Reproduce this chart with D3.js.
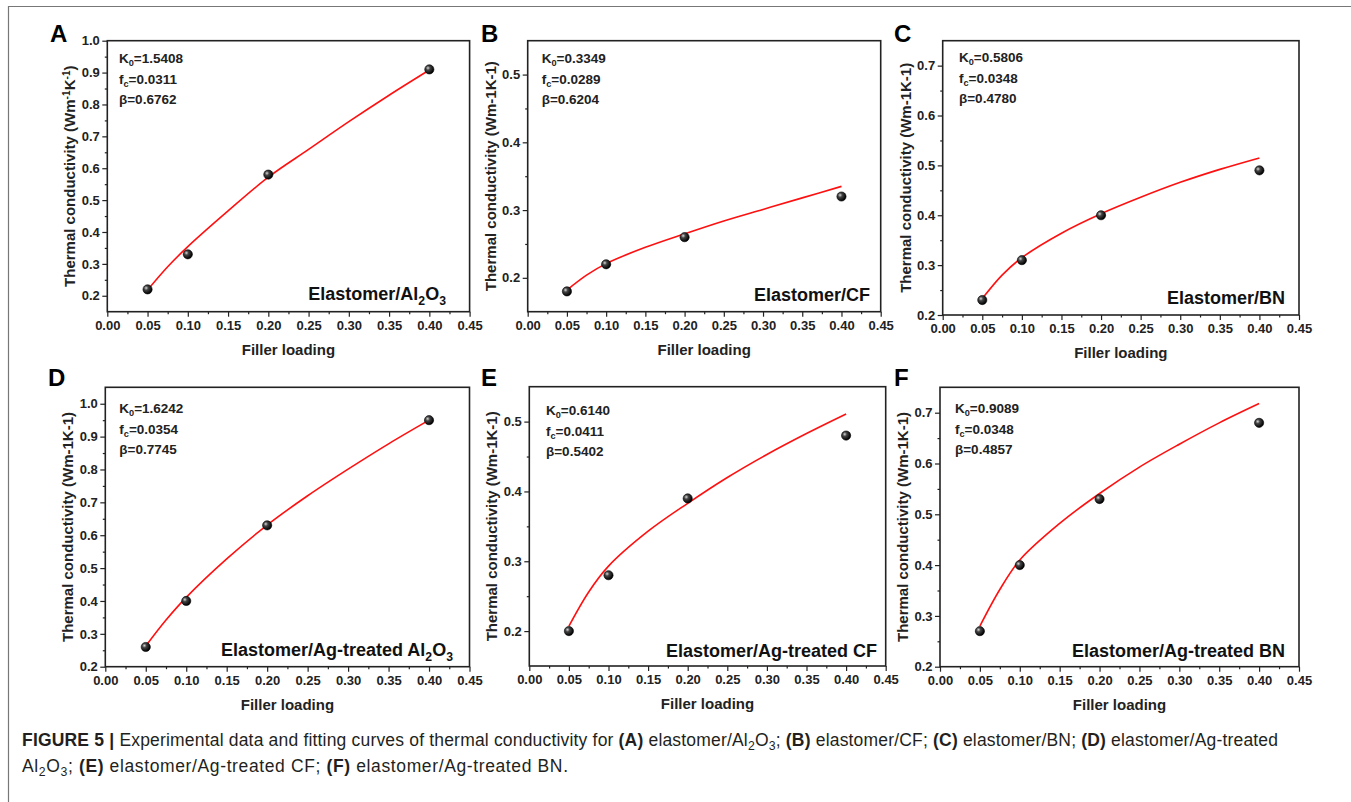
<!DOCTYPE html>
<html>
<head>
<meta charset="utf-8">
<script src="https://cdn.jsdelivr.net/npm/d3@7"></script>
<style>
  html, body { margin: 0; padding: 0; background: #fff; }
  svg { display: block; }
  text { font-family: "Liberation Sans", Arial, Helvetica, sans-serif; }
</style>
</head>
<body>
<svg id="chart" width="1351" height="802"></svg>
<script>
// ---------------- DATA ----------------
const fillerLoading = [0.05, 0.10, 0.20, 0.40];
const kAl2O3   = [0.22, 0.33, 0.58, 0.91];
const kCF      = [0.18, 0.22, 0.26, 0.32];
const kBN      = [0.23, 0.31, 0.40, 0.49];
const kAgAl2O3 = [0.26, 0.40, 0.63, 0.95];
const kAgCF    = [0.20, 0.28, 0.39, 0.48];
const kAgBN    = [0.27, 0.40, 0.53, 0.68];

// fitted curves
const fitLoading  = [0.05, 0.075, 0.10, 0.15, 0.20, 0.25, 0.30, 0.35, 0.40];
const fitAl2O3    = [0.218, 0.291, 0.354, 0.466, 0.572, 0.659, 0.746, 0.829, 0.908];
const fitCF       = [0.182, 0.204, 0.221, 0.245, 0.265, 0.284, 0.301, 0.318, 0.335];
const fitBN       = [0.233, 0.280, 0.315, 0.364, 0.403, 0.436, 0.466, 0.492, 0.515];
const fitAgAl2O3  = [0.263, 0.342, 0.411, 0.528, 0.631, 0.720, 0.801, 0.878, 0.950];
const fitAgCF     = [0.207, 0.256, 0.293, 0.343, 0.383, 0.420, 0.453, 0.483, 0.511];
const fitAgBN     = [0.280, 0.352, 0.410, 0.482, 0.541, 0.593, 0.638, 0.680, 0.718];

const xTicks = [0, 0.05, 0.10, 0.15, 0.20, 0.25, 0.30, 0.35, 0.40, 0.45];
const yTicksAl = [0.2, 0.3, 0.4, 0.5, 0.6, 0.7, 0.8, 0.9, 1.0];
const yTicksCF = [0.2, 0.3, 0.4, 0.5];
const yTicksBN = [0.2, 0.3, 0.4, 0.5, 0.6, 0.7];

const panelLetters = ["A", "B", "C", "D", "E", "F"];
const paramK0 = ["1.5408", "0.3349", "0.5806", "1.6242", "0.6140", "0.9089"];
const paramFc = ["0.0311", "0.0289", "0.0348", "0.0354", "0.0411", "0.0348"];
const paramBeta = ["0.6762", "0.6204", "0.4780", "0.7745", "0.5402", "0.4857"];

// ---------------- LAYOUT ----------------
const layout = [
  {x0:107.3, x1:469.6, y0:40.7,  y1:311.7, yd:[0.15,1.0],  letter:[50,42],   ann:[119,63],   smp:[446,300]},
  {x0:527.7, x1:880.7, y0:40.7,  y1:311.7, yd:[0.15,0.55], letter:[481,42],  ann:[541.7,63], smp:[870,301]},
  {x0:942.7, x1:1299,  y0:40.7,  y1:315,   yd:[0.2,0.75],  letter:[894,42],  ann:[959,62],   smp:[1285,304]},
  {x0:105.3, x1:469.5, y0:387.3, y1:666.7, yd:[0.2,1.05],  letter:[48,386],  ann:[119.3,413],smp:[453,656]},
  {x0:529.3, x1:885.7, y0:386.7, y1:666,   yd:[0.15,0.55], letter:[481,386], ann:[546,415],  smp:[877,657]},
  {x0:940,   x1:1299,  y0:387.3, y1:666.7, yd:[0.2,0.75],  letter:[894,386], ann:[955,413],  smp:[1285,657]}
];

const panels = [
  {k:kAl2O3,   fit:fitAl2O3,   yt:yTicksAl, sample:[["Elastomer/Al"],["2","sub"],["O"],["3","sub"]], supLabel:true},
  {k:kCF,      fit:fitCF,      yt:yTicksCF, sample:[["Elastomer/CF"]]},
  {k:kBN,      fit:fitBN,      yt:yTicksBN, sample:[["Elastomer/BN"]]},
  {k:kAgAl2O3, fit:fitAgAl2O3, yt:yTicksAl, sample:[["Elastomer/Ag-treated Al"],["2","sub"],["O"],["3","sub"]]},
  {k:kAgCF,    fit:fitAgCF,    yt:yTicksCF, sample:[["Elastomer/Ag-treated CF"]]},
  {k:kAgBN,    fit:fitAgBN,    yt:yTicksBN, sample:[["Elastomer/Ag-treated BN"]]}
];

const svg = d3.select("#chart");

// gradient for spherical markers
const defs = svg.append("defs");
const grad = defs.append("radialGradient").attr("id", "ball")
  .attr("cx", "35%").attr("cy", "35%").attr("r", "65%");
grad.append("stop").attr("offset", "0%").attr("stop-color", "#d8d8d8");
grad.append("stop").attr("offset", "35%").attr("stop-color", "#444");
grad.append("stop").attr("offset", "100%").attr("stop-color", "#000");

// outer frame lines
svg.append("line").attr("x1", 8).attr("x2", 1351).attr("y1", 6.5).attr("y2", 6.5)
  .attr("stroke", "#777").attr("stroke-width", 1.2);
svg.append("line").attr("x1", 8.5).attr("x2", 8.5).attr("y1", 6).attr("y2", 802)
  .attr("stroke", "#777").attr("stroke-width", 1.2);

function addRich(sel, parts, size) {
  parts.forEach(p => {
    const t = sel.append("tspan").text(p[0]);
    if (p[1] === "sub") {
      t.attr("font-size", size * 0.68).attr("dy", size * 0.25);
    } else if (p[1] === "sup") {
      t.attr("font-size", size * 0.68).attr("dy", -size * 0.38);
    } else if (p[1] === "back") {
      t.attr("dy", p[2]);
    }
  });
}

panels.forEach((p, i) => {
  const L = layout[i];
  const g = svg.append("g");
  const x = d3.scaleLinear().domain([0, 0.45]).range([L.x0, L.x1]);
  const y = d3.scaleLinear().domain(L.yd).range([L.y1, L.y0]);

  // minor ticks
  const xMinor = d3.range(0.025, 0.45, 0.05);
  const yMinor = [];
  for (let j = 0; j < p.yt.length - 1; j++) yMinor.push((p.yt[j] + p.yt[j + 1]) / 2);

  const xAxis = d3.axisBottom(x).tickValues(xTicks).tickFormat(d3.format(".2f")).tickSize(5).tickPadding(4);
  const xAxisMinor = d3.axisBottom(x).tickValues(xMinor).tickFormat("").tickSize(2.5);
  const yAxis = d3.axisLeft(y).tickValues(p.yt).tickFormat(d3.format(".1f")).tickSize(5).tickPadding(2.5);
  const yAxisMinor = d3.axisLeft(y).tickValues(yMinor).tickFormat("").tickSize(2.5);

  g.append("g").attr("transform", `translate(0,${L.y1})`).call(xAxis);
  g.append("g").attr("transform", `translate(0,${L.y1})`).call(xAxisMinor);
  g.append("g").attr("transform", `translate(${L.x0},0)`).call(yAxis);
  g.append("g").attr("transform", `translate(${L.x0},0)`).call(yAxisMinor);

  g.selectAll(".domain").remove();
  g.selectAll(".tick line").attr("stroke", "#222").attr("stroke-width", 1.2);
  g.selectAll(".tick text").attr("font-size", 13).attr("font-weight", "bold").attr("fill", "#222")
    .attr("font-family", "'Liberation Sans', Arial, sans-serif");

  // frame
  g.append("rect").attr("x", L.x0).attr("y", L.y0)
    .attr("width", L.x1 - L.x0).attr("height", L.y1 - L.y0)
    .attr("fill", "none").attr("stroke", "#222").attr("stroke-width", 1.6);

  // fitted curve
  const line = d3.line().x((d, j) => x(fitLoading[j])).y(d => y(d)).curve(d3.curveCatmullRom.alpha(0.5));
  g.append("path").datum(p.fit).attr("d", line)
    .attr("fill", "none").attr("stroke", "#ff1010").attr("stroke-width", 1.6);

  // data points
  g.selectAll("circle.pt").data(p.k).join("circle").attr("class", "pt")
    .attr("cx", (d, j) => x(fillerLoading[j])).attr("cy", d => y(d))
    .attr("r", 4.6).attr("fill", "url(#ball)").attr("stroke", "#000").attr("stroke-width", 0.6);

  // panel letter
  g.append("text").attr("x", L.letter[0]).attr("y", L.letter[1])
    .attr("font-size", 24).attr("font-weight", "bold").attr("fill", "#000").text(panelLetters[i]);

  // annotations
  const fs = 13.5;
  const a1 = g.append("text").attr("x", L.ann[0]).attr("y", L.ann[1])
    .attr("font-size", fs).attr("font-weight", "bold").attr("fill", "#222");
  addRich(a1, [["K"], ["0", "sub"], ["=" + paramK0[i], "back", -fs * 0.25]], fs);
  const a2 = g.append("text").attr("x", L.ann[0]).attr("y", L.ann[1] + 20.7)
    .attr("font-size", fs).attr("font-weight", "bold").attr("fill", "#222");
  addRich(a2, [["f"], ["c", "sub"], ["=" + paramFc[i], "back", -fs * 0.25]], fs);
  g.append("text").attr("x", L.ann[0]).attr("y", L.ann[1] + 41.4)
    .attr("font-size", fs).attr("font-weight", "bold").attr("fill", "#222")
    .text("β=" + paramBeta[i]);

  // sample label
  const sfs = 18;
  const sp = p.sample.map((s, j) => {
    if (s[1] === "sub") return [s[0], "sub"];
    if (j > 0 && p.sample[j - 1][1] === "sub") return [s[0], "back", -sfs * 0.25];
    return s;
  });
  const st = g.append("text").attr("x", L.smp[0]).attr("y", L.smp[1]).attr("text-anchor", "end")
    .attr("font-size", sfs).attr("font-weight", "bold").attr("fill", "#111");
  addRich(st, sp, sfs);

  // axis titles
  g.append("text").attr("x", (L.x0 + L.x1) / 2).attr("y", L.y1 + 43)
    .attr("text-anchor", "middle").attr("font-size", 15).attr("font-weight", "bold").attr("fill", "#222")
    .text("Filler loading");

  const yl = g.append("text")
    .attr("transform", `translate(${L.x0 - 32},${(L.y0 + L.y1) / 2}) rotate(-90)`)
    .attr("text-anchor", "middle").attr("font-size", 15).attr("font-weight", "bold").attr("fill", "#222");
  if (p.supLabel) {
    addRich(yl, [["Thermal conductivity (Wm"], ["-1", "sup"], ["K", "back", 15 * 0.38], ["-1", "sup"], [")", "back", 15 * 0.38]], 15);
  } else {
    yl.text("Thermal conductivity (Wm-1K-1)");
  }
});

// caption
const cfs = 17.5;
const cap1 = svg.append("text").attr("x", 22).attr("y", 746).attr("font-size", cfs).attr("fill", "#231f20")
  .attr("textLength", 1256).attr("lengthAdjust", "spacing");
cap1.append("tspan").attr("font-weight", "bold").text("FIGURE 5 | ");
cap1.append("tspan").text("Experimental data and fitting curves of thermal conductivity for ");
cap1.append("tspan").attr("font-weight", "bold").text("(A)");
cap1.append("tspan").text(" elastomer/Al");
cap1.append("tspan").attr("font-size", cfs * 0.7).attr("dy", 4).text("2");
cap1.append("tspan").attr("dy", -4).text("O");
cap1.append("tspan").attr("font-size", cfs * 0.7).attr("dy", 4).text("3");
cap1.append("tspan").attr("dy", -4).text("; ");
cap1.append("tspan").attr("font-weight", "bold").text("(B)");
cap1.append("tspan").text(" elastomer/CF; ");
cap1.append("tspan").attr("font-weight", "bold").text("(C)");
cap1.append("tspan").text(" elastomer/BN; ");
cap1.append("tspan").attr("font-weight", "bold").text("(D)");
cap1.append("tspan").text(" elastomer/Ag-treated");

const cap2 = svg.append("text").attr("x", 22).attr("y", 772).attr("font-size", cfs).attr("fill", "#231f20")
  .attr("textLength", 546).attr("lengthAdjust", "spacing");
cap2.append("tspan").text("Al");
cap2.append("tspan").attr("font-size", cfs * 0.7).attr("dy", 4).text("2");
cap2.append("tspan").attr("dy", -4).text("O");
cap2.append("tspan").attr("font-size", cfs * 0.7).attr("dy", 4).text("3");
cap2.append("tspan").attr("dy", -4).text("; ");
cap2.append("tspan").attr("font-weight", "bold").text("(E)");
cap2.append("tspan").text(" elastomer/Ag-treated CF; ");
cap2.append("tspan").attr("font-weight", "bold").text("(F)");
cap2.append("tspan").text(" elastomer/Ag-treated BN.");
</script>
</body>
</html>
